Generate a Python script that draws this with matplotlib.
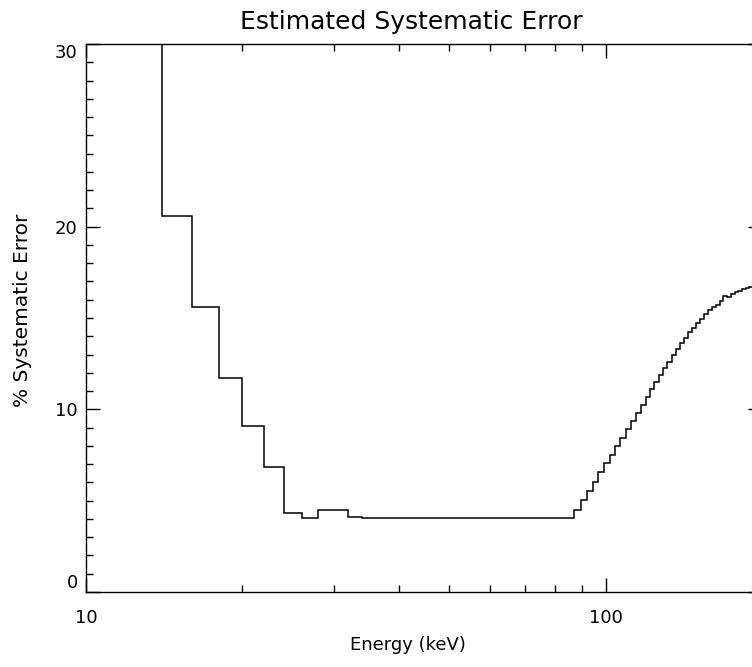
import matplotlib
matplotlib.use("Agg")
import matplotlib.pyplot as plt
from matplotlib.ticker import FixedLocator, NullFormatter

plt.rcParams["font.family"] = "DejaVu Sans"

# bin edges (keV) and systematic error (%)
low_edges = [10.0, 14.0, 16.0, 18.0, 20.0, 22.0, 24.0, 26.0, 28.0, 32.0, 34.0]
low_vals = [35.0, 20.6, 15.6, 11.7, 9.1, 6.85, 4.34, 4.05, 4.5, 4.12, 4.05]

high_edges = [87.1, 89.5, 91.9, 94.5, 96.9, 99.4, 101.8, 104.2, 106.7, 109.3,
              111.9, 114.6, 117.0, 119.4, 121.6, 123.9, 126.6, 128.9, 131.4,
              134.0, 136.6, 139.2, 141.7, 144.2, 146.8, 149.4, 152.1, 154.8,
              157.6, 160.4, 163.1, 165.7, 168.3, 171.5, 174.4, 177.2, 180.0,
              183.0, 186.0, 189.0, 192.0, 200.0]
high_vals = [4.49, 5.02, 5.53, 6.04, 6.55, 7.04, 7.50, 7.99, 8.45, 8.94,
             9.38, 9.81, 10.24, 10.69, 11.09, 11.51, 11.88, 12.24, 12.60,
             12.96, 13.30, 13.61, 13.92, 14.21, 14.47, 14.72, 14.94, 15.20,
             15.43, 15.62, 15.71, 15.95, 16.22, 16.13, 16.30, 16.40, 16.49,
             16.57, 16.64, 16.70, 16.75]

edges = low_edges + high_edges
values = low_vals + high_vals

x_major = [10, 100]
x_minor = [20, 30, 40, 50, 60, 70, 80, 90, 200]
y_major = [0, 10, 20, 30]
y_minor = [v for v in range(31) if v % 10]

fig = plt.figure(figsize=(7.52, 6.67), dpi=100)
ax = fig.add_axes([86 / 752, 75 / 667, 676 / 752, 548 / 667])

ax.stairs(values, edges, baseline=None, color="black", linewidth=1.1)

ax.set_xscale("log")
ax.set_xlim(10, 200)
ax.set_ylim(0, 30)

ax.xaxis.set_major_locator(FixedLocator(x_major))
ax.xaxis.set_minor_locator(FixedLocator(x_minor))
ax.xaxis.set_minor_formatter(NullFormatter())
ax.set_xticklabels(["10", "100"])
ax.yaxis.set_major_locator(FixedLocator(y_major))
ax.yaxis.set_minor_locator(FixedLocator(y_minor))
ax.set_yticklabels(["0", "10", "20", "30"])

ax.tick_params(which="both", direction="in", top=True, right=True,
               width=1.0, labelsize=13, color="black")
ax.tick_params(which="major", length=10)
ax.tick_params(which="minor", length=5)
ax.tick_params(axis="x", which="major", pad=12)
ax.tick_params(axis="y", which="major", pad=6)
ylabs = ax.get_yticklabels()
ylabs[0].set_va("bottom")
ylabs[-1].set_va("top")
for s in ax.spines.values():
    s.set_linewidth(1.0)

ax.set_xlabel("Energy (keV)", fontsize=13, va="center")
ax.xaxis.set_label_coords((408 - 86) / 676, (592 - 645) / 548)
ax.set_ylabel("% Systematic Error", fontsize=14.5, va="center")
ax.yaxis.set_label_coords((23 - 86) / 676, (592 - 310) / 548)

fig.text(411 / 752, 1 - 22 / 667, "Estimated Systematic Error",
         fontsize=18, ha="center", va="center")

fig.savefig("out.png", dpi=100)
